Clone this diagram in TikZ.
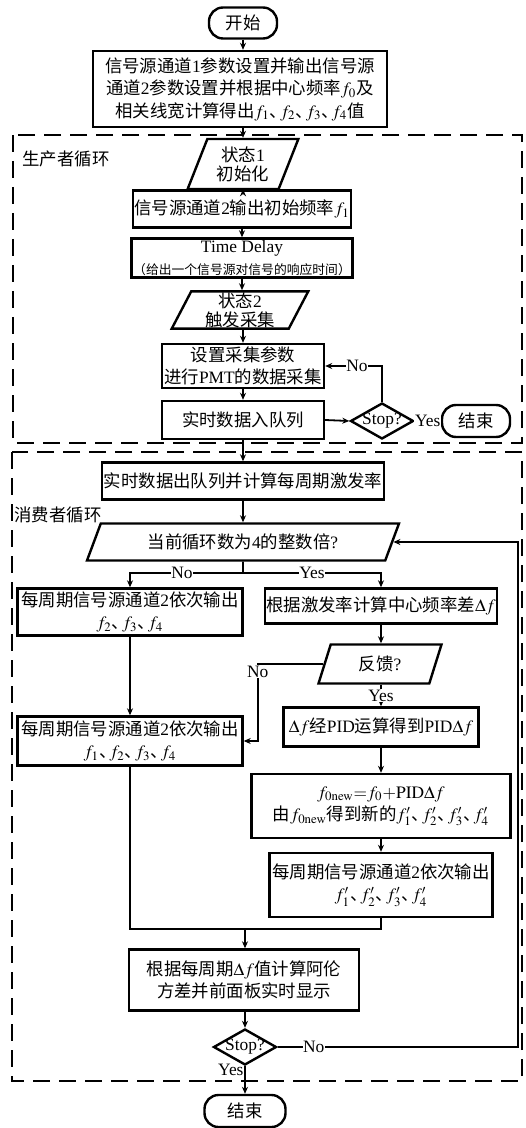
\documentclass[tikz,border=0pt]{standalone}
\usepackage{mathptmx}
\usepackage{fontspec}
\setmainfont{Liberation Serif}
\newfontfamily\cjk{Noto Sans CJK SC}
\usetikzlibrary{shapes.geometric,arrows.meta,calc}
\newcommand{\romn}[1]{{\rmfamily #1}}
\newcommand{\dunhao}{、\kern-0.4em}

\begin{document}
\begin{tikzpicture}[x=0.5pt, y=-0.5pt,
  box/.style={draw, rectangle, line width=1.2pt, align=center, inner sep=0.5pt, font=\cjk\fontsize{8.7}{11.25}\selectfont},
  term/.style={box, rounded corners=7pt},
  para/.style={box, trapezium, trapezium stretches=true, font=\cjk\fontsize{8.7}{9.5}\selectfont},
  dec/.style={draw, diamond, line width=1.2pt, inner sep=0pt, minimum width=31.5pt, minimum height=18pt, text height=3pt, text depth=-3pt, font=\fontsize{8.7}{10}\selectfont},
  flow/.style={-{Stealth[length=3.5pt, width=3pt]}, line width=0.9pt},
  link/.style={line width=0.9pt},
  lbl/.style={fill=white, inner sep=0.3pt, font=\fontsize{8.7}{10}\selectfont},
  loopbox/.style={dash pattern=on 8.5pt off 4.5pt, line width=1.3pt},
  tag/.style={anchor=west, inner sep=0pt, font=\cjk\fontsize{8.7}{10}\selectfont}
]
\useasboundingbox (0,0) rectangle (525,1128);

% loop frames
\draw[loopbox] (13,135) rectangle (522,443);
\draw[loopbox] (12,452) rectangle (522,1081);
\node[tag] (prod) at (22,159) {生产者循环};
\node[tag] (cons) at (14,515) {消费者循环};

\node[term, minimum width=34pt, minimum height=15.5pt] (start) at (243,23) {开始};
\node[box, minimum width=147pt, minimum height=38pt] (init) at (240,89) {信号源通道\romn{1}参数设置并输出信号源\\通道\romn{2}参数设置并根据中心频率$f_0$及\\相关线宽计算得出$f_1$\dunhao$f_2$\dunhao$f_3$\dunhao$f_4$值};

% producer loop
\node[para, trapezium left angle=68, trapezium right angle=112, minimum width=55.5pt, minimum height=25pt] (st1) at (243,164) {状态\romn{1}\\初始化};
\node[box, minimum width=103.5pt, minimum height=18.5pt] (out1) at (242,209) {信号源通道\romn{2}输出初始频率$f_1$};
\node[box, minimum width=110.5pt, minimum height=19.5pt] (delay) at (242,258) {\romn{Time Delay}\\{\fontsize{6.4}{7}\selectfont （给出一个信号源对信号的响应时间）}};
\node[para, trapezium left angle=69, trapezium right angle=111, minimum width=68.5pt, minimum height=18.5pt] (st2) at (240,310) {状态\romn{2}\\触发采集};
\node[box, minimum width=81pt, minimum height=22pt] (acq) at (243,366) {设置采集参数\\进行\romn{PMT}的数据采集};
\node[box, minimum width=81pt, minimum height=19pt] (enq) at (243,420) {实时数据入队列};
\node[dec] (stop1) at (382,421) {\makebox[0pt]{Stop?}};
\node[term, minimum width=34pt, minimum height=16pt] (end1) at (476,421) {结束};

% consumer loop
\node[box, minimum width=141pt, minimum height=18.5pt] (deq) at (243,481) {实时数据出队列并计算每周期激发率};
\node[para, trapezium left angle=63, trapezium right angle=117, minimum width=156pt, minimum height=18.5pt] (cur) at (243,542) {当前循环数为\romn{4}的整数倍\romn{?}};
\coordinate (fork) at (243,573);
\node[box, minimum width=112.5pt, minimum height=23.5pt] (lb1) at (130,612) {每周期信号源通道\romn{2}依次输出\\$f_2$\dunhao$f_3$\dunhao$f_4$};
\node[box, minimum width=113pt, minimum height=17.5pt] (rb1) at (381,606) {根据激发率计算中心频率差$\Delta f$};
\node[para, trapezium left angle=73, trapezium right angle=107, minimum width=61.5pt, minimum height=19.5pt] (fb) at (380,664) {反馈\romn{?}};
\node[box, minimum width=112.5pt, minimum height=24.5pt] (lb2) at (130,741) {每周期信号源通道\romn{2}依次输出\\$f_1$\dunhao$f_2$\dunhao$f_3$\dunhao$f_4$};
\node[box, minimum width=97.5pt, minimum height=19.5pt] (pid) at (381,727) {$\Delta f$经\romn{PID}运算得到\romn{PID}$\Delta f$};
\node[box, minimum width=129.5pt, minimum height=32pt] (fnew) at (381,806) {$f_{0\mathrm{new}}{=}f_0{+}\mathrm{PID}\Delta f$\\由$f_{0\mathrm{new}}$得到新的$f_1'$\dunhao$f_2'$\dunhao$f_3'$\dunhao$f_4'$};
\node[box, minimum width=111.5pt, minimum height=32pt] (rb3) at (381,885) {每周期信号源通道\romn{2}依次输出\\$f_1'$\dunhao$f_2'$\dunhao$f_3'$\dunhao$f_4'$};
\coordinate (mg) at (245,929);
\node[box, minimum width=115pt, minimum height=30.5pt] (res) at (244,980) {根据每周期$\Delta f$值计算阿伦\\方差并前面板实时显示};
\node[dec] (stop2) at (245,1047) {\makebox[0pt]{Stop?}};
\coordinate (back) at (518,1047);
\node[term, minimum width=40.5pt, minimum height=16pt] (end2) at (245,1111) {结束};

% producer connectors
\draw[flow] (start.south) -- (start.south |- init.north);
\draw[flow] (st1.north |- init.south) -- (st1.north);
\draw[flow] (st1.south) -- (st1.south |- out1.north);
\draw[flow] (out1.south) -- (out1.south |- delay.north);
\draw[flow] (delay.south) -- (delay.south |- st2.north);
\draw[flow] (acq.north |- st2.south) -- (acq.north);
\draw[flow] (acq.south) -- (enq.north);
\draw[flow] (enq.east) -- (stop1.west);
\draw[flow] (stop1.north) |- node[lbl, pos=0.72] {No} (acq.east);
\draw[flow] (stop1.east) -- node[lbl] {Yes} (end1.west);

% consumer connectors
\draw[flow] (enq.south) -- (enq.south |- deq.north);
\draw[flow] (deq.south) -- (deq.south |- cur.north);
\draw[link] (cur.south) -- (fork);
\draw[flow] (fork) -| node[lbl, pos=0.27] {No} (lb1.north);
\draw[flow] (fork) -| node[lbl, pos=0.25] {Yes} (rb1.north);
\draw[flow] (lb1.south) -- (lb2.north);
\draw[flow] (rb1.south) -- (rb1.south |- fb.north);
\draw[flow] (fb.west) -| node[lbl, pos=0.55] {No} ([xshift=7pt]lb2.east) -- (lb2.east);
\draw[flow] (rb1.south |- fb.south) -- node[lbl] {Yes} (pid.north);
\draw[flow] (pid.south) -- (fnew.north);
\draw[flow] (fnew.south) -- (rb3.north);
\draw[link] (lb2.south) |- (rb3.south |- mg) -- (rb3.south);
\draw[flow] (mg) -- (mg |- res.north);
\draw[flow] (res.south -| stop2.north) -- (stop2.north);
\draw[flow] (stop2.east) -- node[lbl, pos=0.15] {No} (back) |- (cur.east);
\draw[flow] (stop2.south) -- node[lbl, fill=none, anchor=east, pos=0.12] {Yes} (end2.north);
\end{tikzpicture}
\end{document}
